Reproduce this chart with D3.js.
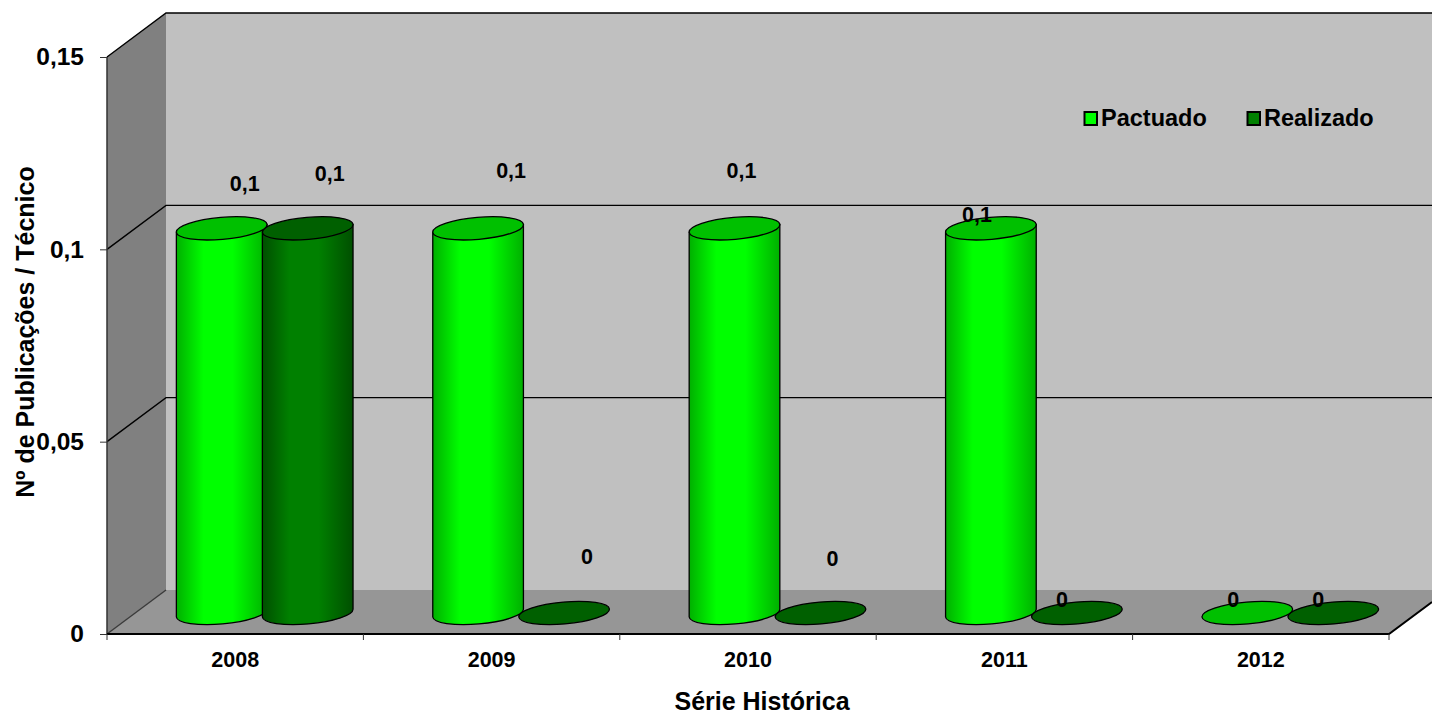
<!DOCTYPE html>
<html lang="pt">
<head>
<meta charset="utf-8">
<script src="https://cdnjs.cloudflare.com/ajax/libs/d3/7.8.5/d3.min.js"></script>
<style>
  html, body { margin: 0; padding: 0; background: #fff; overflow: hidden; }
  text { font-family: "Liberation Sans", Arial, sans-serif; font-weight: bold; fill: #000; }
</style>
</head>
<body>
<svg id="chart" width="1432" height="715"></svg>
<script>
// Chart values
const years = ["2008", "2009", "2010", "2011", "2012"];
const seriesNames = ["Pactuado", "Realizado"];
const pactuado = [0.1, 0.1, 0.1, 0.1, 0];
const realizado = [0.1, 0, 0, 0, 0];
const valueTicks = [0, 0.05, 0.1, 0.15];
const tickLabels = ["0", "0,05", "0,1", "0,15"];

// Hand-placed data label nudges (dx, dy from the top centre of each cylinder)
const pactuadoNudge = [[23, -37], [33, -50], [7, -50], [-14, -6], [-14, -6]];
const realizadoNudge = [[22, -47], [23, -49], [12, -47], [-15, -6], [-15, -6]];

const svg = d3.select("#chart");
const frontLeft = 107, frontRight = 1389, floorY = 634, topY = 57;
const depthX = 59, depthY = -44;
const chartRight = 1432;

const x = d3.scaleBand().domain(years).range([frontLeft, frontRight]);
const y = d3.scaleLinear().domain([0, 0.15]).range([floorY, topY]);
const inner = d3.scaleBand().domain(seriesNames).range([-86, 86]);

const colours = {
  Pactuado: { edgeL: "#00b000", mid: "#00ff00", edgeR: "#00b000", top: "#00c000", key: "#00ff00" },
  Realizado: { edgeL: "#004f00", mid: "#008000", edgeR: "#004f00", top: "#006000", key: "#008000" }
};

const defs = svg.append("defs");
seriesNames.forEach(name => {
  const c = colours[name];
  const g = defs.append("linearGradient").attr("id", "body-" + name);
  [[0, c.edgeL], [0.3, c.mid], [0.62, c.mid], [1, c.edgeR]].forEach(([o, col]) =>
    g.append("stop").attr("offset", o).attr("stop-color", col));
});

// Walls and floor
const path = pts => "M" + pts.map(p => p.join(",")).join("L") + "Z";
const backLeft = frontLeft + depthX;
const backFloor = floorY + depthY, backTop = topY + depthY;
svg.append("rect").attr("x", backLeft).attr("y", backTop)
  .attr("width", chartRight - backLeft).attr("height", backFloor - backTop).attr("fill", "#c0c0c0");
svg.append("path").attr("fill", "#808080")
  .attr("d", path([[frontLeft, topY], [backLeft, backTop], [backLeft, backFloor], [frontLeft, floorY]]));
svg.append("path").attr("fill", "#969696")
  .attr("d", path([[frontLeft, floorY], [backLeft, backFloor], [chartRight, backFloor], [frontRight + 43, floorY - 32], [frontRight, floorY]]));

// Gridlines wrapping the side wall and back wall
valueTicks.forEach(v => {
  const yFront = y(v), yBack = yFront + depthY;
  svg.append("path").attr("fill", "none").attr("stroke", v === 0 ? "#3a3a3a" : "#000").attr("stroke-width", 1.4)
    .attr("d", `M${frontLeft},${yFront}L${backLeft},${yBack}` + (v === 0 ? "" : `L${chartRight},${yBack}`));
});

// Axes
svg.append("path").attr("stroke", "#333").attr("stroke-width", 1.5).attr("fill", "none")
  .attr("d", `M${frontLeft},${topY}V${floorY}`);
svg.append("path").attr("stroke", "#000").attr("stroke-width", 2).attr("fill", "none")
  .attr("d", `M${frontLeft},${floorY}H${frontRight}L${frontRight + 43},${floorY - 32}`);

const xAxis = d3.axisBottom(x).tickSize(0).tickPadding(18);
const xG = svg.append("g").attr("transform", `translate(0,${floorY})`).call(xAxis);
xG.select(".domain").remove();
xG.selectAll("text").attr("font-size", 21.5).attr("fill", "#000");

[frontLeft, ...years.map(d => x(d) + x.bandwidth())].forEach(px =>
  svg.append("line").attr("x1", px).attr("x2", px).attr("y1", floorY).attr("y2", floorY + 6)
    .attr("stroke", "#333").attr("stroke-width", 1));

const yAxis = d3.axisLeft(y).tickValues(valueTicks)
  .tickFormat((d, i) => tickLabels[i]).tickSize(7).tickPadding(16);
const yG = svg.append("g").attr("transform", `translate(${frontLeft},0)`).call(yAxis);
yG.select(".domain").remove();
yG.selectAll("line").attr("stroke", "#333");
yG.selectAll("text").attr("font-size", 24.5).attr("fill", "#000");

// Cylinders: bodies left to right, then top caps with the first series above the second
const rx = 45.5, ry = 11, tilt = -5;
const cx = (year, name) => x(year) + x.bandwidth() / 2 + inner(name) + inner.bandwidth() / 2 + depthX / 2;
const baseOffset = depthY / 2 + 1;

const marks = [];
years.forEach((yr, i) => {
  marks.push({ yr, name: "Pactuado", v: pactuado[i], nudge: pactuadoNudge[i] });
  marks.push({ yr, name: "Realizado", v: realizado[i], nudge: realizadoNudge[i] });
});

const dy = Math.sin(tilt * Math.PI / 180) * rx;
const dx = Math.cos(tilt * Math.PI / 180) * rx;

svg.append("g").selectAll("path").data(marks.filter(d => d.v > 0)).join("path")
  .attr("transform", d => `translate(${cx(d.yr, d.name)},0)`)
  .attr("fill", d => `url(#body-${d.name})`)
  .attr("stroke", "#000").attr("stroke-width", 1.3)
  .attr("d", d => {
    const b = y(0) + baseOffset, t = y(d.v) + baseOffset;
    return `M${-dx},${t - dy}L${-dx},${b - dy}` +
      `A${rx},${ry} ${tilt} 0 0 ${dx},${b + dy}L${dx},${t + dy}Z`;
  });

svg.append("g").selectAll("ellipse").data(marks.slice().reverse()).join("ellipse")
  .attr("rx", rx).attr("ry", ry)
  .attr("transform", d => `translate(${cx(d.yr, d.name)},${y(d.v) + baseOffset}) rotate(${tilt})`)
  .attr("fill", d => colours[d.name].top)
  .attr("stroke", "#000").attr("stroke-width", 1.3);

// Data labels
svg.append("g").selectAll("text").data(marks).join("text")
  .attr("text-anchor", "middle").attr("font-size", 21.5)
  .attr("x", d => cx(d.yr, d.name) + d.nudge[0])
  .attr("y", d => y(d.v) + baseOffset + d.nudge[1])
  .text(d => String(d.v).replace(".", ","));

// Axis titles
svg.append("text").attr("text-anchor", "middle").attr("font-size", 25)
  .attr("x", 762).attr("y", 709.5).text("Série Histórica");
svg.append("text").attr("text-anchor", "middle").attr("font-size", 25)
  .attr("transform", "translate(33.5,332) rotate(-90)").text("Nº de Publicações / Técnico");

// Legend
const legend = svg.append("g").attr("transform", "translate(1083,118)");
seriesNames.forEach((name, i) => {
  const g = legend.append("g").attr("transform", `translate(${i * 163},0)`);
  g.append("rect").attr("x", 1.5).attr("y", -6).attr("width", 12.5).attr("height", 13)
    .attr("fill", colours[name].key).attr("stroke", "#000").attr("stroke-width", 2);
  g.append("text").attr("x", 18).attr("y", 8).attr("font-size", 23.5).text(name);
});
</script>
</body>
</html>
